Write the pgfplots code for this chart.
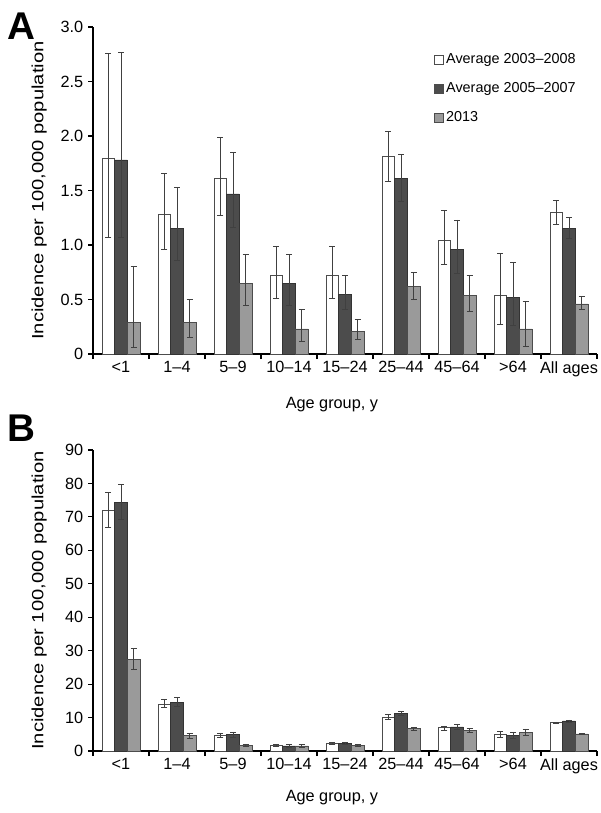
\documentclass[border=0pt]{standalone}
\usepackage{pgfplots}
\pgfplotsset{compat=1.18}
\usepackage{pgfplotstable}
\usepackage{fontspec}
\setmainfont{Liberation Sans}

% incidence, panel A; p/m = upper/lower error
\pgfplotstableread{
x w    wp   wm   d    dp   dm   g    gp   gm
0 1.80 0.96 0.73 1.78 0.99 0.71 0.29 0.51 0.23
1 1.28 0.38 0.32 1.15 0.38 0.29 0.29 0.21 0.14
2 1.61 0.38 0.34 1.47 0.38 0.31 0.65 0.26 0.20
3 0.72 0.27 0.21 0.65 0.26 0.20 0.23 0.18 0.11
4 0.72 0.27 0.21 0.55 0.17 0.14 0.21 0.11 0.08
5 1.81 0.23 0.23 1.61 0.22 0.21 0.62 0.13 0.12
6 1.04 0.28 0.22 0.96 0.27 0.22 0.54 0.18 0.15
7 0.54 0.38 0.27 0.52 0.32 0.26 0.23 0.25 0.16
8 1.30 0.11 0.11 1.15 0.10 0.09 0.46 0.07 0.05
}\dataA

% panel B
\pgfplotstableread{
x w    wp   wm   d    dp   dm   g    gp   gm
0 72.0 5.3  5.0  74.4 5.4  5.1  27.4 3.3  3.0
1 14.1 1.3  1.1  14.5 1.4  1.3  4.6  0.6  0.8
2 4.7  0.7  0.7  5.0  0.7  0.8  1.7  0.4  0.4
3 1.6  0.3  0.3  1.5  0.5  0.5  1.5  0.4  0.4
4 2.2  0.3  0.3  2.3  0.4  0.4  1.7  0.3  0.3
5 10.2 0.6  0.6  11.2 0.7  0.7  6.7  0.4  0.5
6 7.0  0.5  0.8  7.2  0.7  0.6  6.2  0.6  0.7
7 4.9  1.0  0.9  4.6  1.1  0.8  5.6  1.0  0.8
8 8.5  0.2  0.3  9.0  0.3  0.3  5.1  0.1  0.2
}\dataB

\definecolor{darkbar}{HTML}{4C4C4C}
\definecolor{lightbar}{HTML}{9A9A9A}

\pgfplotsset{
  incid/.style={
    scale only axis, width=378pt,
    xmin=-0.5, xmax=8.5, ymin=0,
    axis x line*=bottom, axis y line*=left,
    axis line style={black, line width=0.8pt, -},
    tick align=outside,
    major tick length=3.75pt,
    tick style={black, line width=0.8pt},
    xtick={-0.5,0.5,...,8.5}, xticklabels={},
    extra x ticks={0,1,2,3,4,5,6,7,8},
    extra x tick labels={{<1},{1--4},{5--9},{10--14},{15--24},{25--44},{45--64},{>64},{All ages}},
    extra x tick style={major tick length=0pt, xticklabel style={yshift=-2pt}},
    /pgf/number format/assume math mode=true,
    ticklabel style={font=\fontsize{12.2}{14}\selectfont},
    label style={font=\fontsize{12.2}{14}\selectfont},
    xlabel={Age group, y},
    xlabel style={at={(axis description cs:0.474,-0.156)}, anchor=center},
    ylabel={\scalebox{1.24}[1]{Incidence per 100,000 population}},
    ylabel style={at={(axis description cs:-0.107,0.5)}, anchor=center},
    ybar=0pt, bar width=9.5pt,
    error bars/error bar style={line width=0.6pt, black!75},
    error bars/error mark options={rotate=90, mark size=2.2pt, line width=0.6pt, black!75},
    legend image code/.code={\draw[#1, draw=black!70] (0pt,-3.2pt) rectangle (6.4pt,3.2pt);},
  }
}

\begin{document}
\begin{tikzpicture}
\path[use as bounding box] (0,0) rectangle (450pt,-609.75pt);

\node[font=\bfseries\fontsize{29}{30}\selectfont] at (15.75pt,-19.5pt) {A};
\node[font=\bfseries\fontsize{29}{30}\selectfont] at (15.75pt,-321pt) {B};

\begin{axis}[incid,
  at={(69.75pt,-265.5pt)}, anchor=south west,
  height=245.25pt, ymax=3,
  ytick={0,0.5,1,1.5,2,2.5,3},
  yticklabels={0,0.5,1.0,1.5,2.0,2.5,3.0},
  legend style={at={(axis description cs:0.669,0.935)}, anchor=north west,
    draw=none, fill=none, font=\fontsize{10.8}{13}\selectfont,
    row sep=8.6pt, cells={anchor=west}},
]
\addplot[fill=white, draw=black!70, error bars/.cd, y dir=both, y explicit]
  table[x=x, y=w, y error plus=wp, y error minus=wm] {\dataA};
\addplot[fill=darkbar, draw=black!80, error bars/.cd, y dir=both, y explicit]
  table[x=x, y=d, y error plus=dp, y error minus=dm] {\dataA};
\addplot[fill=lightbar, draw=black!70, error bars/.cd, y dir=both, y explicit]
  table[x=x, y=g, y error plus=gp, y error minus=gm] {\dataA};
\legend{Average 2003--2008, Average 2005--2007, 2013}
\end{axis}

\begin{axis}[incid,
  at={(69.75pt,-563.25pt)}, anchor=south west,
  height=225.75pt, ymax=90,
  ytick={0,10,...,90},
  xlabel style={at={(axis description cs:0.474,-0.156)}},
]
\addplot[fill=white, draw=black!70, error bars/.cd, y dir=both, y explicit]
  table[x=x, y=w, y error plus=wp, y error minus=wm] {\dataB};
\addplot[fill=darkbar, draw=black!80, error bars/.cd, y dir=both, y explicit]
  table[x=x, y=d, y error plus=dp, y error minus=dm] {\dataB};
\addplot[fill=lightbar, draw=black!70, error bars/.cd, y dir=both, y explicit]
  table[x=x, y=g, y error plus=gp, y error minus=gm] {\dataB};
\end{axis}
\end{tikzpicture}
\end{document}
